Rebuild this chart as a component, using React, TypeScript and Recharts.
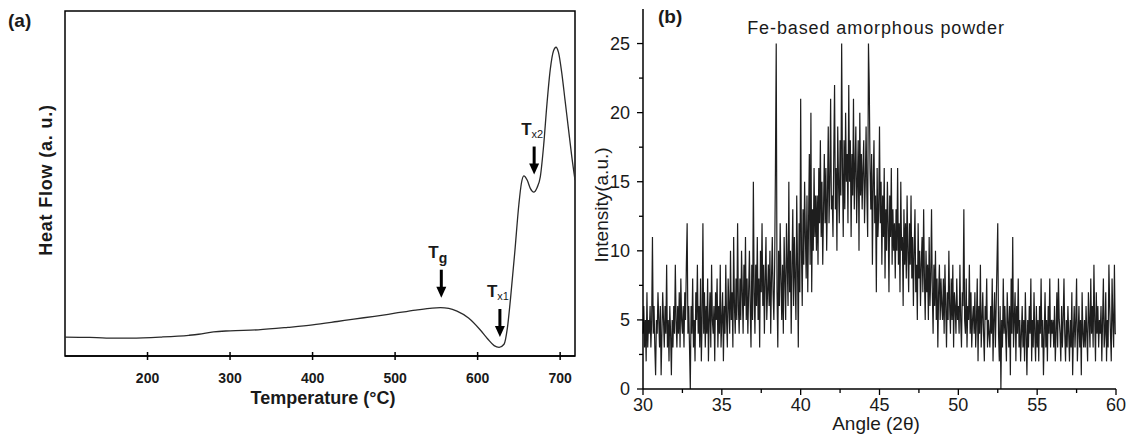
import { LineChart, Line, XAxis, YAxis, ReferenceDot, ReferenceArea } from "recharts";

/* ─── (a) DSC curve ─── */

const dscTemps = [
  100, 130, 150, 180, 217, 250, 262, 280, 300, 334, 370, 400, 430, 450, 475, 500, 525, 545, 555, 565,
  575, 589, 603, 612, 620, 626, 632, 636, 640, 645, 650, 653, 656, 660, 664, 668, 672, 676, 680, 684,
  688, 692, 695, 698, 702, 706, 710, 714, 718,
];
const dscHeatFlow = [
  5.5, 5.4, 5.2, 5.2, 5.5, 6.0, 6.3, 7.0, 7.3, 7.6, 8.3, 9.0, 10.0, 10.7, 11.5, 12.4, 13.3, 13.9, 14.0, 13.8,
  13.0, 11.0, 7.6, 5.0, 3.0, 2.5, 3.4, 8, 17, 30, 44, 50, 52.2, 51, 48.5, 47.5, 48.8, 52, 61, 73,
  83, 88.5, 89.5, 88, 82, 74, 66, 58, 51,
];
const dscTicks = [200, 300, 400, 500, 600, 700];

const markerTemps = [556, 627, 668.5];
const markerValues = [16.9, 5.5, 52.6];
const markerSubs = ["g", "x1", "x2"];

/* ─── (b) XRD pattern, 30–60°, step 0.05° ─── */

const xrdStart = 30;
const xrdStep = 0.05;
const xrdCounts = [
  4, 6, 3, 5, 2, 7, 3, 5, 4, 6, 3, 5, 11, 4, 6, 3, 1, 5, 4, 7,
  5, 3, 6, 1, 4, 7, 5, 3, 6, 4, 9, 3, 5, 2, 6, 4, 1, 5, 3, 6,
  4, 9, 5, 3, 6, 4, 7, 3, 8, 5, 4, 6, 3, 7, 5, 9, 12, 4, 6, 3,
  0, 6, 4, 8, 3, 5, 2, 7, 5, 9, 4, 6, 3, 8, 2, 5, 12, 4, 7, 3,
  6, 4, 8, 2, 5, 7, 3, 9, 5, 4, 6, 2, 7, 5, 8, 3, 6, 4, 9, 3,
  5, 7, 2, 6, 4, 9, 5, 3, 8, 6, 4, 10, 5, 7, 3, 11, 6, 4, 8, 5,
  12, 6, 4, 8, 5, 10, 7, 4, 9, 6, 11, 5, 8, 4, 7, 10, 6, 3, 9, 5,
  15, 7, 4, 9, 6, 11, 5, 8, 3, 10, 7, 12, 6, 9, 4, 8, 11, 5, 7, 9,
  6, 10, 4, 8, 11, 7, 5, 9, 16, 25, 7, 3, 10, 6, 12, 8, 5, 9, 4, 11,
  8, 5, 12, 9, 6, 15, 7, 10, 4, 9, 13, 6, 11, 8, 5, 14, 9, 3, 12, 7,
  21, 10, 6, 13, 9, 15, 11, 8, 14, 7, 12, 17, 9, 20, 7, 13, 10, 16, 11, 14,
  10, 14, 9, 16, 12, 18, 11, 15, 9, 13, 17, 12, 16, 10, 14, 19, 12, 15, 21, 13,
  14, 11, 17, 22, 13, 16, 10, 19, 15, 12, 18, 14, 25, 16, 11, 18, 13, 20, 15, 17,
  12, 22, 15, 18, 11, 17, 14, 21, 13, 16, 19, 12, 15, 18, 10, 20, 14, 17, 13, 16,
  18, 12, 15, 19, 14, 11, 25, 22, 16, 13, 17, 9, 15, 18, 12, 14, 7, 16, 11, 13,
  19, 12, 15, 9, 14, 11, 16, 8, 13, 10, 15, 12, 7, 14, 11, 16, 9, 13, 10, 12,
  8, 13, 10, 16, 9, 12, 7, 15, 10, 11, 6, 13, 9, 12, 8, 14, 10, 7, 12, 9,
  14, 8, 11, 6, 10, 13, 7, 9, 5, 12, 8, 10, 6, 9, 11, 7, 13, 8, 5, 10,
  7, 9, 5, 11, 6, 8, 13, 7, 4, 9, 6, 10, 5, 8, 3, 7, 9, 5, 8, 6,
  5, 8, 4, 9, 6, 3, 7, 5, 10, 6, 4, 8, 5, 9, 3, 7, 6, 4, 8, 5,
  6, 4, 9, 5, 3, 7, 6, 13, 5, 4, 8, 3, 6, 5, 9, 4, 7, 3, 5, 6,
  4, 7, 3, 5, 8, 2, 6, 4, 9, 3, 5, 7, 4, 2, 6, 5, 8, 3, 5, 4,
  3, 6, 4, 8, 2, 5, 7, 3, 6, 9, 12, 4, 2, 6, 0, 5, 3, 8, 4, 6,
  4, 2, 7, 5, 3, 6, 1, 8, 4, 11, 3, 5, 7, 2, 6, 4, 8, 3, 5, 2,
  4, 6, 3, 5, 2, 7, 4, 1, 5, 3, 6, 4, 8, 2, 5, 3, 7, 4, 2, 6,
  3, 5, 2, 6, 4, 8, 3, 5, 1, 4, 7, 3, 5, 2, 6, 4, 8, 3, 5, 4,
  5, 3, 6, 2, 4, 7, 3, 8, 5, 4, 2, 6, 3, 5, 8, 4, 2, 5, 3, 6,
  4, 2, 5, 3, 7, 1, 4, 6, 3, 5, 8, 2, 4, 6, 3, 5, 1, 7, 4, 3,
  5, 3, 6, 4, 2, 7, 5, 3, 8, 4, 6, 3, 9, 5, 2, 7, 4, 6, 3, 5,
  4, 6, 2, 5, 8, 3, 4, 7, 2, 5, 3, 9, 6, 4, 2, 8, 5, 3, 9, 4,
  4,
];
const xrdXTicks = [30, 32.5, 35, 37.5, 40, 42.5, 45, 47.5, 50, 52.5, 55, 57.5, 60];
const xrdYTicks = [0, 2.5, 5, 7.5, 10, 12.5, 15, 17.5, 20, 22.5, 25];

const dscData = dscTemps.map((t, i) => ({ temp: t, flow: dscHeatFlow[i] }));
const xrdData = xrdCounts.map((c, i) => ({
  angle: Math.round((xrdStart + i * xrdStep) * 100) / 100,
  counts: c,
}));

const FONT = "Arial, 'Liberation Sans', Helvetica, sans-serif";
const INK = "#1a1a1a";

/* ─── ticks ─── */

function DscTick({ x, y, payload }: any) {
  return (
    <g>
      <line x1={x} x2={x} y1={y - 4} y2={y + 4} stroke="#000" strokeWidth={1.5} />
      <text x={x} y={y + 27} textAnchor="middle" fontSize={14} fontWeight="bold" fill={INK} fontFamily={FONT}>
        {payload.value}
      </text>
    </g>
  );
}

function XrdXTick({ x, y, payload }: any) {
  const major = payload.value % 5 === 0;
  return (
    <g>
      <line x1={x} x2={x} y1={y} y2={y + (major ? 6 : 4)} stroke="#000" strokeWidth={1.3} />
      {major && (
        <text x={x} y={y + 22} textAnchor="middle" fontSize={18} fill={INK} fontFamily={FONT}>
          {payload.value}
        </text>
      )}
    </g>
  );
}

function XrdYTick({ x, y, payload }: any) {
  const major = payload.value % 5 === 0;
  return (
    <g>
      <line x1={x} x2={x - (major ? 6 : 4)} y1={y} y2={y} stroke="#000" strokeWidth={1.3} />
      {major && (
        <text x={x - 13} y={y + 6} textAnchor="end" fontSize={18} fill={INK} fontFamily={FONT}>
          {payload.value}
        </text>
      )}
    </g>
  );
}

/* ─── DSC markers: arrow + T label ─── */

function makeMarker(sub: string) {
  return (props: any) => {
    const { cx, cy } = props;
    const small = sub.length > 1;
    return (
      <g>
        <line x1={cx} x2={cx} y1={cy - 28} y2={cy - 9} stroke="#000" strokeWidth={3} />
        <path d={`M${cx - 5},${cy - 11} L${cx + 5},${cy - 11} L${cx},${cy} Z`} fill="#000" />
        <text x={cx - 13} y={cy - 40} fontSize={17} fontWeight="bold" fill={INK} fontFamily={FONT}>
          T
          <tspan fontSize={small ? 11 : 14} fontWeight={small ? "normal" : "bold"} dy={small ? 3 : 5}>
            {sub}
          </tspan>
        </text>
      </g>
    );
  };
}

const abs = (style: React.CSSProperties): React.CSSProperties => ({
  position: "absolute",
  fontFamily: FONT,
  color: INK,
  whiteSpace: "nowrap",
  lineHeight: 1,
  ...style,
});

export default function App() {
  return (
    <div style={{ position: "absolute", left: 0, top: 0, width: 1126, height: 436, background: "#fff", overflow: "hidden" }}>
      {/* Painel (a) */}
      <div style={{ position: "absolute", left: 0, top: 0 }}>
        <LineChart width={580} height={436} data={dscData} margin={{ top: 11, right: 5, bottom: 50, left: 65 }}>
          <XAxis
            dataKey="temp"
            type="number"
            domain={[100, 718]}
            ticks={dscTicks}
            height={30}
            tickSize={0}
            tickMargin={0}
            tickLine={false}
            tick={<DscTick />}
            axisLine={{ stroke: "#000", strokeWidth: 1.5 }}
            allowDataOverflow
          />
          <YAxis type="number" domain={[0, 100]} hide />
          {/* moldura do painel */}
          <ReferenceArea
            x1={100}
            x2={718}
            y1={0}
            y2={100}
            fill="none"
            fillOpacity={0}
            stroke="#000"
            strokeWidth={1.5}
            strokeOpacity={1}
          />
          <Line
            type="monotone"
            dataKey="flow"
            stroke="#2a2a2a"
            strokeWidth={1.3}
            dot={false}
            isAnimationActive={false}
          />
          {markerTemps.map((t, i) => (
            <ReferenceDot key={i} x={t} y={markerValues[i]} shape={makeMarker(markerSubs[i])} />
          ))}
        </LineChart>
      </div>

      <div style={abs({ left: 8, top: 11, fontSize: 19, fontWeight: "bold" })}>(a)</div>
      <div style={abs({ left: 323, top: 389, fontSize: 18, fontWeight: "bold", transform: "translateX(-50%)" })}>
        Temperature (°C)
      </div>
      <div
        style={abs({
          left: 46,
          top: 180,
          fontSize: 18,
          fontWeight: "bold",
          letterSpacing: 0.8,
          transform: "translate(-50%, -50%) rotate(-90deg)",
        })}
      >
        Heat Flow (a. u.)
      </div>

      {/* Painel (b) */}
      <div style={{ position: "absolute", left: 560, top: 0 }}>
        <LineChart width={566} height={436} data={xrdData} margin={{ top: 9, right: 10, bottom: 17, left: 0 }}>
          <XAxis
            dataKey="angle"
            type="number"
            domain={[30, 60]}
            ticks={xrdXTicks}
            interval={0}
            height={30}
            tickSize={0}
            tickMargin={0}
            tickLine={false}
            tick={<XrdXTick />}
            axisLine={{ stroke: "#000", strokeWidth: 1.5 }}
          />
          <YAxis
            type="number"
            domain={[0, 27.5]}
            ticks={xrdYTicks}
            interval={0}
            width={83}
            tickSize={0}
            tickMargin={0}
            tickLine={false}
            tick={<XrdYTick />}
            axisLine={{ stroke: "#000", strokeWidth: 1.5 }}
            allowDataOverflow
          />
          <Line
            type="linear"
            dataKey="counts"
            stroke="#1e1e1e"
            strokeWidth={1.2}
            dot={false}
            isAnimationActive={false}
          />
        </LineChart>
      </div>

      <div style={abs({ left: 658, top: 7, fontSize: 19, fontWeight: "bold" })}>(b)</div>
      <div style={abs({ left: 876, top: 19, fontSize: 18, letterSpacing: 0.9, transform: "translateX(-50%)" })}>
        Fe-based amorphous powder
      </div>
      <div style={abs({ left: 876, top: 414, fontSize: 19, transform: "translateX(-50%)" })}>Angle (2θ)</div>
      <div
        style={abs({
          left: 601,
          top: 205,
          fontSize: 19,
          transform: "translate(-50%, -50%) rotate(-90deg)",
        })}
      >
        Intensity(a.u.)
      </div>
    </div>
  );
}
